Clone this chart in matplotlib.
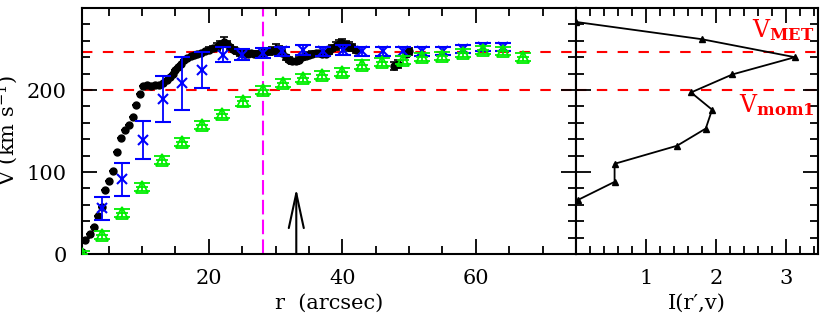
import matplotlib
matplotlib.use("Agg")
import matplotlib.pyplot as plt
from matplotlib.ticker import MultipleLocator

plt.rcParams['font.family'] = ['DejaVu Serif']
plt.rcParams['mathtext.fontset'] = 'dejavuserif'

# ---------------- data ----------------
black_r = [1.0, 1.5, 2.2, 2.8, 3.4, 4.0, 4.5, 5.0, 5.6, 6.2, 6.9, 7.4, 8.0, 8.6, 9.1, 9.7,
           10.2, 10.8, 11.4, 12.0, 12.6, 13.2, 13.7, 14.2, 14.6, 15.0, 15.4, 15.8, 16.3, 16.8,
           17.3, 17.8, 18.3, 18.8, 19.4, 20.0, 20.6, 21.2, 21.7, 22.2, 22.7, 23.2, 23.7, 24.2,
           24.7, 25.2, 25.8, 26.3, 26.8, 27.4, 27.9, 28.4, 29.0, 29.5, 30.0, 30.5, 31.0, 31.5,
           32.0, 32.5, 33.0, 33.5, 34.0, 34.5, 35.0, 35.5, 36.0, 36.5, 37.0, 37.5, 38.0, 38.5,
           39.0, 39.5, 40.0, 40.5, 41.0, 41.5, 42.0, 47.7, 48.3, 49.5, 50.0]
black_v = [2, 17, 25, 33, 46, 57, 78, 89, 101, 125, 142, 151, 157, 167, 182, 195,
           205, 206, 205, 206, 206, 208, 212, 216, 220, 224, 228, 232, 236, 239,
           241, 243, 244, 245, 247, 249, 251, 253, 256, 259, 256, 252, 249, 247,
           245, 244, 244, 245, 244, 244, 245, 246, 247, 248, 250, 249, 245, 240,
           237, 235, 235, 237, 240, 242, 243, 244, 245, 245, 244, 244, 248, 251,
           254, 256, 257, 255, 253, 252, 249, 229, 232, 244, 247]
black_err = [0, 0, 0, 0, 0, 0, 0, 0, 0, 0, 0, 0, 0, 0, 0, 0,
             0, 0, 0, 0, 0, 0, 0, 0, 0, 0, 0, 0, 0, 0,
             0, 0, 0, 0, 0, 3, 3, 4, 4, 6, 4, 3, 3, 3,
             3, 3, 3, 3, 3, 3, 3, 3, 4, 4, 6, 5, 4, 3,
             3, 3, 3, 3, 3, 3, 3, 3, 3, 3, 3, 3, 4, 4,
             5, 5, 5, 5, 5, 4, 4, 5, 5, 4, 4]

blue_r = [4.0, 7.0, 10.1, 13.1, 16.0, 19.0, 22.1, 25.0, 28.1, 31.0, 34.1, 37.1, 40.1,
          43.0, 46.1, 49.1, 52.0, 55.1, 58.0, 61.1, 64.0]
blue_v = [56, 91, 139, 189, 208, 224, 243, 243, 245, 247, 249, 247, 249,
          247, 247, 247, 247, 248, 250, 252, 252]
blue_err = [14, 20, 23, 28, 32, 22, 9, 7, 6, 6, 6, 6, 6,
            6, 6, 6, 5, 5, 5, 5, 5]

green_r = [1.0, 4.0, 7.0, 10.0, 13.0, 16.0, 19.0, 22.0, 25.1, 28.1, 31.1, 34.1, 37.0,
           40.0, 43.0, 46.0, 49.1, 52.0, 55.0, 58.0, 61.0, 64.0, 67.0]
green_v = [0, 23, 50, 82, 115, 137, 157, 171, 186, 200, 209, 215, 218,
           222, 231, 234, 237, 240, 241, 245, 249, 248, 240]
green_err = [4, 5, 5, 5, 5, 5, 5, 5, 5, 5, 5, 5, 5,
             5, 5, 5, 5, 5, 5, 5, 5, 5, 5]

prof_I = [0.0, 1.79, 3.12, 2.23, 1.64, 1.94, 1.85, 1.44, 0.55, 0.55, 0.03]
prof_v = [283, 262, 240, 219, 197, 176, 153, 132, 110, 88, 66]

v_met = 246
v_mom1 = 200
r_vline = 28.1
r_arrow = 33.1
arrow_top = 80

# ---------------- figure ----------------
W, H = 830, 326
fig = plt.figure(figsize=(W / 100, H / 100), dpi=100)
axL = fig.add_axes([82 / W, (H - 254) / H, (576 - 82) / W, (254 - 8) / H])
axR = fig.add_axes([576 / W, (H - 254) / H, (818 - 576) / W, (254 - 8) / H])

FS = 15
for ax in (axL, axR):
    for s in ax.spines.values():
        s.set_linewidth(1.5)
    ax.tick_params(which='both', direction='in', top=True, right=True,
                   width=1.3, labelsize=FS)
    ax.tick_params(axis='y', which='major', pad=11)
    ax.tick_params(axis='x', which='major', pad=11)
    ax.tick_params(which='major', length=11)
    ax.tick_params(which='minor', length=6)
    ax.set_ylim(0, 300)
    ax.set_yticks([0, 100, 200])
    ax.yaxis.set_minor_locator(MultipleLocator(20))
    ax.axhline(v_met, color='#ff0000', lw=1.5, dashes=(5, 5), zorder=1)
    ax.axhline(v_mom1, color='#ff0000', lw=1.5, dashes=(5, 5), zorder=1)

# left panel
axL.set_xlim(1, 75)
axL.xaxis.set_major_locator(MultipleLocator(20))
axL.xaxis.set_minor_locator(MultipleLocator(5))

axL.axvline(r_vline, color='#ff00ff', lw=1.5, dashes=(7, 2.5), zorder=1)

axL.errorbar(black_r, black_v, yerr=black_err, fmt='o', ms=5, color='black',
             ecolor='black', elinewidth=1.2, capsize=3, capthick=1.2, zorder=3)
axL.errorbar(blue_r, blue_v, yerr=blue_err, fmt='x', ms=7, mew=1.5,
             color='#0000ff', ecolor='#0000ff', elinewidth=1.3,
             capsize=5.5, capthick=1.5, zorder=4)
axL.errorbar(green_r, green_v, yerr=green_err, fmt='^', ms=8.5, mfc='none',
             mec='#00ee00', mew=1.3, ecolor='#00ee00', elinewidth=1.3,
             capsize=5.5, capthick=1.5, zorder=5)
axL.plot(green_r, green_v, ls='none', marker='_', ms=8, mew=1.3, color='#00ee00', zorder=5)

axL.annotate('', xy=(r_arrow, arrow_top), xytext=(r_arrow, 0),
             arrowprops=dict(arrowstyle='->,head_length=1.25,head_width=0.27',
                             lw=1.5, color='black', shrinkA=0, shrinkB=0,
                             mutation_scale=20))

axL.set_xlabel('r  (arcsec)', fontsize=FS, labelpad=4)
fig.text(20 / W, 0.5 * ((H - 254) + (H - 8)) / H, r'V (km s$^{-1}$)', rotation=90,
         ha='right', va='center', fontsize=FS)

# right panel
axR.set_xlim(0, 3.45)
axR.set_xticks([1, 2, 3])
axR.xaxis.set_minor_locator(MultipleLocator(0.2))
axR.tick_params(labelleft=False)
axR.plot(prof_I, prof_v, color='black', lw=1.3, marker='^', ms=5, zorder=5)
axR.set_xlabel('I(r\u2032,v)', fontsize=FS, labelpad=4)

axR.text(3.40, 265, r'V$_{\mathbf{MET}}$', color='#ff0000', fontsize=17,
         ha='right', va='baseline')
axR.text(3.40, 173, r'V$_{\mathbf{mom1}}$', color='#ff0000', fontsize=17,
         ha='right', va='baseline')

fig.savefig('out.png', dpi=100)
